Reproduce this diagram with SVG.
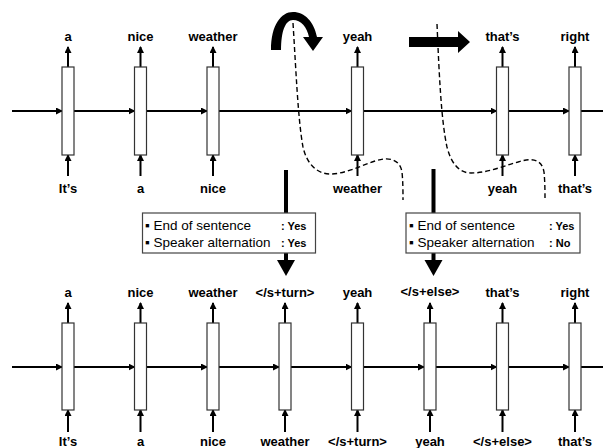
<svg xmlns="http://www.w3.org/2000/svg" width="603" height="448" viewBox="0 0 603 448">
<style>
.lbl{font-family:"Liberation Sans",Arial,sans-serif;font-weight:bold;font-size:13px;fill:#000;text-anchor:middle}
.box{font-family:"Liberation Sans",Arial,sans-serif;font-size:13.5px;fill:#000}
.ans{font-family:"Liberation Sans",Arial,sans-serif;font-weight:bold;font-size:11px;fill:#000}
.cell{fill:#fff;stroke:#333;stroke-width:1.2}
.ln{stroke:#000;stroke-width:2;fill:none}
.hl{stroke:#000;stroke-width:2;fill:none;marker-end:url(#ah)}
.dash{stroke:#000;stroke-width:1.4;fill:none;stroke-dasharray:5 3}
.rect{fill:#fff;stroke:#444;stroke-width:1.2}
</style>
<defs>
<marker id="ah" markerUnits="userSpaceOnUse" markerWidth="7" markerHeight="7" refX="6" refY="3.5" orient="auto">
<path d="M0,0 L7,3.5 L0,7 z" fill="#000"/>
</marker>
</defs>
<rect width="603" height="448" fill="#fff"/>

<!-- connectors -->
<g id="connectors">
  <!-- top row horizontal -->
  <line class="hl" x1="12" y1="111" x2="62" y2="111"/>
  <line class="hl" x1="74" y1="111" x2="134.5" y2="111"/>
  <line class="hl" x1="146.5" y1="111" x2="207" y2="111"/>
  <line class="hl" x1="219" y1="111" x2="351.5" y2="111"/>
  <line class="hl" x1="363.5" y1="111" x2="496.5" y2="111"/>
  <line class="hl" x1="508.5" y1="111" x2="569" y2="111"/>
  <line class="ln" x1="581" y1="111" x2="603" y2="111"/>
  <!-- top row verticals -->
  <line class="hl" x1="68" y1="67" x2="68" y2="47"/>
  <line class="hl" x1="140.5" y1="67" x2="140.5" y2="47"/>
  <line class="hl" x1="213" y1="67" x2="213" y2="47"/>
  <line class="hl" x1="357.5" y1="67" x2="357.5" y2="47"/>
  <line class="hl" x1="502.5" y1="67" x2="502.5" y2="47"/>
  <line class="hl" x1="575" y1="67" x2="575" y2="47"/>
  <line class="hl" x1="68" y1="176" x2="68" y2="155"/>
  <line class="hl" x1="140.5" y1="176" x2="140.5" y2="155"/>
  <line class="hl" x1="213" y1="176" x2="213" y2="155"/>
  <line class="hl" x1="357.5" y1="176" x2="357.5" y2="155"/>
  <line class="hl" x1="502.5" y1="176" x2="502.5" y2="155"/>
  <line class="hl" x1="575" y1="176" x2="575" y2="155"/>
  <!-- bottom row horizontal -->
  <line class="hl" x1="12" y1="367" x2="62" y2="367"/>
  <line class="hl" x1="74" y1="367" x2="134.5" y2="367"/>
  <line class="hl" x1="146.5" y1="367" x2="207" y2="367"/>
  <line class="hl" x1="219" y1="367" x2="279" y2="367"/>
  <line class="hl" x1="291" y1="367" x2="351.5" y2="367"/>
  <line class="hl" x1="363.5" y1="367" x2="424" y2="367"/>
  <line class="hl" x1="436" y1="367" x2="496.5" y2="367"/>
  <line class="hl" x1="508.5" y1="367" x2="569" y2="367"/>
  <line class="ln" x1="581" y1="367" x2="603" y2="367"/>
  <!-- bottom row verticals -->
  <line class="hl" x1="68" y1="323" x2="68" y2="303"/>
  <line class="hl" x1="140.5" y1="323" x2="140.5" y2="303"/>
  <line class="hl" x1="213" y1="323" x2="213" y2="303"/>
  <line class="hl" x1="285" y1="323" x2="285" y2="303"/>
  <line class="hl" x1="357.5" y1="323" x2="357.5" y2="303"/>
  <line class="hl" x1="430" y1="323" x2="430" y2="303"/>
  <line class="hl" x1="502.5" y1="323" x2="502.5" y2="303"/>
  <line class="hl" x1="575" y1="323" x2="575" y2="303"/>
  <line class="hl" x1="68" y1="432" x2="68" y2="410"/>
  <line class="hl" x1="140.5" y1="432" x2="140.5" y2="410"/>
  <line class="hl" x1="213" y1="432" x2="213" y2="410"/>
  <line class="hl" x1="285" y1="432" x2="285" y2="410"/>
  <line class="hl" x1="357.5" y1="432" x2="357.5" y2="410"/>
  <line class="hl" x1="430" y1="432" x2="430" y2="410"/>
  <line class="hl" x1="502.5" y1="432" x2="502.5" y2="410"/>
  <line class="hl" x1="575" y1="432" x2="575" y2="410"/>
  <!-- dashed cut lines -->
  <path class="dash" d="M293 23 C296 70 298 120 303 147 C307 165 318 174 330 174 C345 174 360 166 375 161 C390 156 400 160 402 172 C403 182 403 192 403 200"/>
  <path class="dash" d="M437 24 C439 70 441 120 447 147 C451 163 459 173 471 173 C488 173 503 166 518 162 C533 157 542 160 544 172 C545 182 545 192 545 200"/>
  <!-- thick down arrows -->
  <rect x="284" y="170" width="4" height="43" fill="#000"/>
  <rect x="284" y="253" width="4" height="8" fill="#000"/>
  <polygon points="277,260 295,260 286,276" fill="#000"/>
  <rect x="431.5" y="169" width="4" height="44" fill="#000"/>
  <rect x="431.5" y="253" width="4" height="8" fill="#000"/>
  <polygon points="424.5,260 442.5,260 433.5,276" fill="#000"/>
  <!-- curved arrow -->
  <path d="M271 50 C271 25 281 12 293 12 C305 12 314 22 317 37 L323 37 L313 51 L303 37 L309 37 C307 27 301 20 293 20 C285 20 281 32 281 50 Z" fill="#000"/>
  <!-- straight thick arrow -->
  <polygon points="409,37 458,37 458,31 470,42 458,53 458,47 409,47" fill="#000"/>
</g>

<!-- top row nodes -->
<g id="t0"><rect class="cell" x="62" y="67" width="12" height="88"/><text class="lbl" x="68" y="41">a</text><text class="lbl" x="68" y="193">It’s</text></g>
<g id="t1"><rect class="cell" x="134.5" y="67" width="12" height="88"/><text class="lbl" x="140.5" y="41">nice</text><text class="lbl" x="140.5" y="193">a</text></g>
<g id="t2"><rect class="cell" x="207" y="67" width="12" height="88"/><text class="lbl" x="213" y="41">weather</text><text class="lbl" x="213" y="193">nice</text></g>
<g id="t3"><rect class="cell" x="351.5" y="67" width="12" height="88"/><text class="lbl" x="357.5" y="41">yeah</text><text class="lbl" x="357.5" y="193">weather</text></g>
<g id="t4"><rect class="cell" x="496.5" y="67" width="12" height="88"/><text class="lbl" x="502.5" y="41">that’s</text><text class="lbl" x="502.5" y="193">yeah</text></g>
<g id="t5"><rect class="cell" x="569" y="67" width="12" height="88"/><text class="lbl" x="575" y="41">right</text><text class="lbl" x="575" y="193">that’s</text></g>

<!-- condition boxes -->
<g id="box1">
  <rect class="rect" x="142.5" y="213" width="173" height="40"/>
  <text class="box" x="145" y="230">▪ End of sentence</text>
  <text class="box" x="145" y="247">▪ Speaker alternation</text>
  <text class="ans" x="281" y="230">: Yes</text>
  <text class="ans" x="281" y="247">: Yes</text>
</g>
<g id="box2">
  <rect class="rect" x="406" y="213" width="174" height="40"/>
  <text class="box" x="409" y="230">▪ End of sentence</text>
  <text class="box" x="409" y="247">▪ Speaker alternation</text>
  <text class="ans" x="549" y="230">: Yes</text>
  <text class="ans" x="549" y="247">: No</text>
</g>

<!-- bottom row nodes -->
<g id="b0"><rect class="cell" x="62" y="323" width="12" height="87"/><text class="lbl" x="68" y="297">a</text><text class="lbl" x="68" y="446">It’s</text></g>
<g id="b1"><rect class="cell" x="134.5" y="323" width="12" height="87"/><text class="lbl" x="140.5" y="297">nice</text><text class="lbl" x="140.5" y="446">a</text></g>
<g id="b2"><rect class="cell" x="207" y="323" width="12" height="87"/><text class="lbl" x="213" y="297">weather</text><text class="lbl" x="213" y="446">nice</text></g>
<g id="b3"><rect class="cell" x="279" y="323" width="12" height="87"/><text class="lbl" x="285" y="297">&lt;/s+turn&gt;</text><text class="lbl" x="285" y="446">weather</text></g>
<g id="b4"><rect class="cell" x="351.5" y="323" width="12" height="87"/><text class="lbl" x="357.5" y="297">yeah</text><text class="lbl" x="357.5" y="446">&lt;/s+turn&gt;</text></g>
<g id="b5"><rect class="cell" x="424" y="323" width="12" height="87"/><text class="lbl" x="430" y="296">&lt;/s+else&gt;</text><text class="lbl" x="430" y="446">yeah</text></g>
<g id="b6"><rect class="cell" x="496.5" y="323" width="12" height="87"/><text class="lbl" x="502.5" y="297">that’s</text><text class="lbl" x="502.5" y="446">&lt;/s+else&gt;</text></g>
<g id="b7"><rect class="cell" x="569" y="323" width="12" height="87"/><text class="lbl" x="575" y="297">right</text><text class="lbl" x="575" y="446">that’s</text></g>
</svg>
